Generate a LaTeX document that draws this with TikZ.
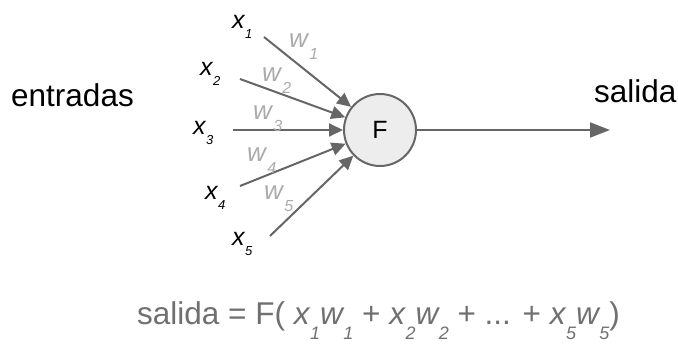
\documentclass[tikz,border=0pt]{standalone}
\usepackage{fontspec}
\setmainfont{Liberation Sans}
\usetikzlibrary{arrows.meta}
\definecolor{linegray}{HTML}{666666}
\definecolor{wgray}{HTML}{ABABAB}
\definecolor{fgray}{HTML}{707070}
\definecolor{fillgray}{HTML}{EDEDED}
\newcommand\xsub[2]{#1\kern0.5pt\raisebox{-10pt}{\fontsize{13}{13}\selectfont #2}}
\newcommand\wsub[2]{#1\kern1.5pt\raisebox{-12pt}{\fontsize{16}{16}\selectfont #2}}
\newcommand\fsub[2]{#1\kern0.5pt\raisebox{-15pt}{\fontsize{18}{18}\selectfont #2}}
\begin{document}
\begin{tikzpicture}[x=1pt,y=-1pt,
  conn/.style={draw=linegray, line width=2pt, -{Triangle[length=14pt,width=13pt]}},
  xlab/.style={inner sep=0pt, anchor=base west, font=\fontsize{25}{25}\selectfont\itshape},
  wlab/.style={inner sep=0pt, anchor=base west, text=wgray, font=\fontsize{26}{26}\selectfont\itshape},
  big/.style={inner sep=0pt, anchor=base west, font=\fontsize{31.5}{32}\selectfont}]
\useasboundingbox (0,0) rectangle (678,347);
\node[circle, draw=linegray, line width=2pt, fill=fillgray, minimum size=72pt, inner sep=0pt,
  font=\fontsize{25}{25}\selectfont] (F) at (380,130) {F};
\coordinate (s1) at (264,37);
\coordinate (s2) at (240,79);
\coordinate (s3) at (233,130);
\coordinate (s4) at (240,186);
\coordinate (s5) at (270,236);
\coordinate (out) at (610,130);
\foreach \i in {1,...,5} \draw[conn] (s\i) -- (F);
\draw[conn, -{Triangle[length=20pt,width=15pt]}] (F) -- (out);
\node[big] (ent) at (11,107) {entradas};
\node[big] (sal) at (594,103) {salida};
\node[xlab] (x1) at (232,29) {\xsub{x}{1}};
\node[xlab] (x2) at (200,76) {\xsub{x}{2}};
\node[xlab] (x3) at (193,135) {\xsub{x}{3}};
\node[xlab] (x4) at (205,200) {\xsub{x}{4}};
\node[xlab] (x5) at (232,246) {\xsub{x}{5}};
\node[wlab] (w1) at (289,48) {\wsub{w}{1}};
\node[wlab] (w2) at (262,82) {\wsub{w}{2}};
\node[wlab] (w3) at (253,120) {\wsub{w}{3}};
\node[wlab] (w4) at (247,162) {\wsub{w}{4}};
\node[wlab] (w5) at (264,200) {\wsub{w}{5}};
\node[big, text=fgray] (eq) at (137,325) {salida = F( {\itshape\fsub{x}{1}\fsub{w}{1}} + {\itshape\fsub{x}{2}\fsub{w}{2}} + ... + {\itshape\fsub{x}{5}\fsub{w}{5}})};
\end{tikzpicture}
\end{document}
